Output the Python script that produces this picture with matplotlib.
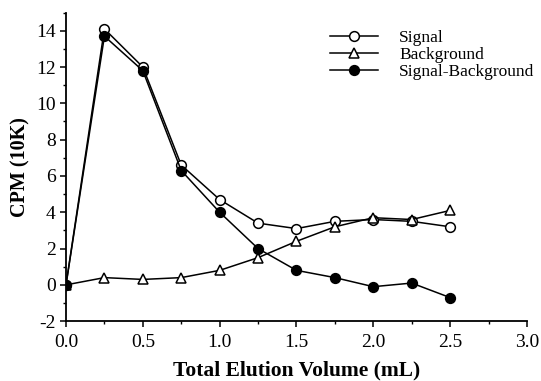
import numpy as np
import matplotlib.pyplot as plt
from matplotlib.ticker import MultipleLocator

# elution volume (mL) and CPM (10K)
volume = [0.0, 0.25, 0.5, 0.75, 1.0, 1.25, 1.5, 1.75, 2.0, 2.25, 2.5]
signal = [0.0, 14.1, 12.0, 6.6, 4.7, 3.4, 3.1, 3.5, 3.6, 3.5, 3.2]
background = [0.0, 0.4, 0.3, 0.4, 0.8, 1.5, 2.4, 3.2, 3.7, 3.6, 4.1]
signal_minus_bg = [0.0, 13.7, 11.8, 6.3, 4.0, 2.0, 0.8, 0.4, -0.1, 0.1, -0.7]

plt.rcParams['font.family'] = ['Liberation Serif', 'DejaVu Serif']
plt.rcParams['axes.unicode_minus'] = False

fig = plt.figure(figsize=(5.41, 3.81), dpi=100)
ax = fig.add_axes([0.122, 0.157, 0.852, 0.81])

line_kw = dict(color='black', linewidth=1.1, markersize=7, markeredgewidth=1.1)
ax.plot(volume, signal, marker='o', markerfacecolor='white', label='Signal', zorder=3, **line_kw)
ax.plot(volume, background, marker='^', markerfacecolor='white', label='Background', zorder=3, **line_kw)
ax.plot(volume, signal_minus_bg, marker='o', markerfacecolor='black', label='Signal-Background', zorder=4, **line_kw)

ax.set_xlim(0, 3.0)
ax.set_ylim(-2, 15)
ax.xaxis.set_major_locator(MultipleLocator(0.5))
ax.xaxis.set_minor_locator(MultipleLocator(0.25))
ax.set_yticks(np.arange(-2, 15, 2))
ax.yaxis.set_minor_locator(MultipleLocator(1))
ax.xaxis.set_major_formatter(plt.FormatStrFormatter('%.1f'))

for side in ['top', 'right']:
    ax.spines[side].set_visible(False)
for side in ['left', 'bottom']:
    ax.spines[side].set_linewidth(1.3)

ax.tick_params(which='major', direction='out', length=4, width=1.1, labelsize=14)
ax.tick_params(which='minor', direction='out', length=2.5, width=1.0)
ax.tick_params(axis='x', pad=5)

ax.set_xlabel('Total Elution Volume (mL)', fontsize=15.5, fontweight='bold', labelpad=7)
ax.set_ylabel('CPM (10K)', fontsize=14.5, fontweight='bold', labelpad=4)

ax.legend(loc='upper right', bbox_to_anchor=(1.05, 0.995), frameon=False, fontsize=12.5,
          handlelength=2.8, handletextpad=1.2, labelspacing=0.05)

plt.savefig('out.png', dpi=100)
